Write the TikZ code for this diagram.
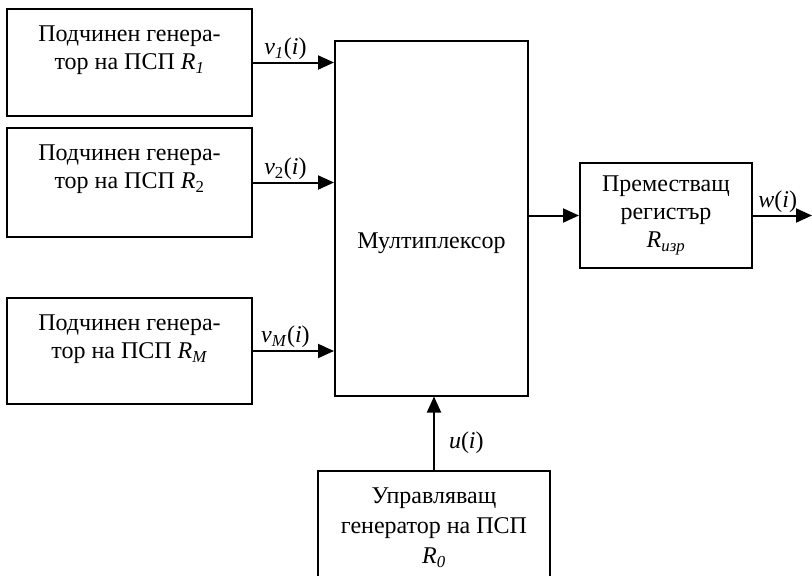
\documentclass[tikz,border=0pt]{standalone}
\usepackage{fontspec}
\setmainfont{Liberation Serif}
\usetikzlibrary{positioning,arrows.meta}
\tikzset{
  blk/.style={draw=black, rectangle, line width=2pt, inner sep=0pt, align=center,
    font=\fontsize{24}{28}\selectfont},
  btxt/.style={align=center, inner sep=0pt, font=\fontsize{24}{28}\selectfont},
  flow/.style={-{Triangle[length=16pt,width=14pt]}, line width=2pt},
  sig/.style={font=\fontsize{24}{28}\selectfont, inner sep=2pt},
}
\newcommand{\gentext}[1]{Подчинен генера-\\тор на ПСП \textit{R}\textsubscript{#1}}

\begin{document}
\begin{tikzpicture}[x=1pt,y=-1pt]
  \useasboundingbox (0,0) rectangle (812,576);
  % slave generators
  \node[blk, minimum width=245pt, minimum height=107pt] (gen1) at (129.5,62.5) {};
  \node[blk, minimum width=245pt, minimum height=109pt] (gen2) at (129.5,182.5) {};
  \node[blk, minimum width=245pt, minimum height=106pt] (gen3) at (129.5,351) {};
  \node[btxt, below=18pt of gen1.north] (t1) {\gentext{\textit{1}}};
  \node[btxt, below=18pt of gen2.north] (t2) {\gentext{2}};
  \node[btxt, below=18pt of gen3.north] (t3) {\gentext{\textit{M}}};
  % multiplexer, register, control generator
  \node[blk, minimum width=193pt, minimum height=355pt] (mux) at (431.5,218) {};
  \node[btxt, yshift=-25pt] (muxt) at (mux.center) {Мултиплексор};
  \node[blk, minimum width=172pt, minimum height=105pt] (reg) at (666,215.5)
    {Преместващ\\регистър\\\textit{R}\textsubscript{\textit{изр}}};
  \node[blk, minimum width=232pt, minimum height=130pt] (ctl) at (434,536) {};
  \node[btxt, below=18pt of ctl.north, font=\fontsize{24}{30}\selectfont] (tc)
    {Управляващ\\генератор на ПСП\\\textit{R}\textsubscript{\textit{0}}};
  \coordinate (out) at (812,215.5);
  % connections
  \draw[flow] (gen1.east) -- node[sig, above, pos=0.4] (l1)
    {\textit{v}\textsubscript{\textit{1}}(\textit{i})} (gen1.east -| mux.west);
  \draw[flow] (gen2.east) -- node[sig, above, pos=0.4] (l2)
    {\textit{v}\textsubscript{2}(\textit{i})} (gen2.east -| mux.west);
  \draw[flow] (gen3.east) -- node[sig, above, pos=0.4] (l3)
    {\textit{v}\textsubscript{\textit{M}}(\textit{i})} (gen3.east -| mux.west);
  \draw[flow] (reg.west -| mux.east) -- (reg.west);
  \draw[flow] (ctl.north) -- node[sig, right, pos=0.37, xshift=12pt] (lu)
    {\textit{u}(\textit{i})} (ctl.north |- mux.south);
  \draw[flow] (reg.east) -- node[sig, above, pos=0.42] (lw)
    {\textit{w}(\textit{i})} (out);
\end{tikzpicture}
\end{document}
